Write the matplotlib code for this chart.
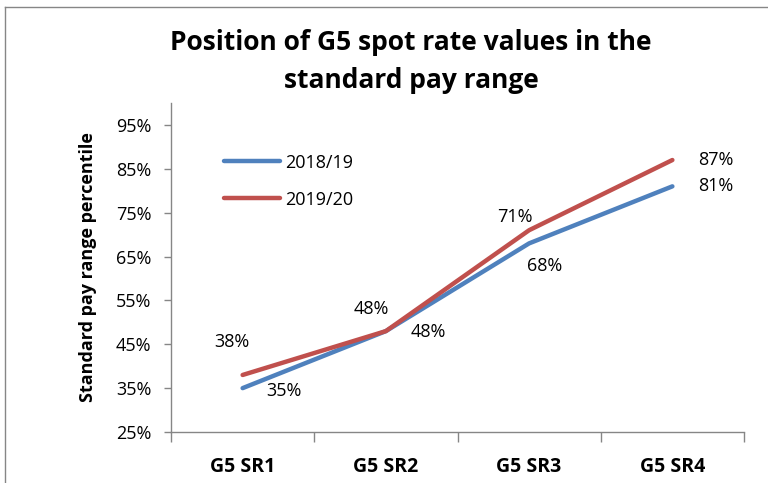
import matplotlib
matplotlib.use("Agg")
import matplotlib.pyplot as plt
from matplotlib.lines import Line2D
from matplotlib.ticker import FixedLocator, FuncFormatter

categories = ["G5 SR1", "G5 SR2", "G5 SR3", "G5 SR4"]
series_names = ["2018/19", "2019/20"]
values_2018 = [35, 48, 68, 81]
values_2019 = [38, 48, 71, 87]
yticks = [25, 35, 45, 55, 65, 75, 85, 95]

# label offsets in pixels (dx, dy) relative to each point
offs_2018 = [(41, -3), (42, -1), (16, -23), (43, 0)]
offs_2019 = [(-11, 33), (-15, 22), (-14, 13), (43, 0)]

blue = "#4F81BD"
red = "#C0504D"
grey = "#868686"
font = "Open Sans"

plt.rcParams["font.family"] = [font, "DejaVu Sans"]

fig = plt.figure(figsize=(7.68, 4.83), dpi=100)
ax = fig.add_axes([171/768, 1-432/483, (744-171)/768, (432-103)/483])

x = list(range(len(categories)))
ax.plot(x, values_2018, color=blue, lw=3.2, solid_capstyle="round", label=series_names[0])
ax.plot(x, values_2019, color=red, lw=3.2, solid_capstyle="round", label=series_names[1])

lab_fs = 13
for xi, v, (dx, dy) in zip(x, values_2018, offs_2018):
    ax.annotate(f"{v}%", (xi, v), xytext=(dx, dy), textcoords="offset pixels",
                ha="center", va="center", fontsize=lab_fs, color="black")
for xi, v, (dx, dy) in zip(x, values_2019, offs_2019):
    ax.annotate(f"{v}%", (xi, v), xytext=(dx, dy), textcoords="offset pixels",
                ha="center", va="center", fontsize=lab_fs, color="black")

ax.set_xlim(-0.5, len(categories) - 0.5)
ax.set_ylim(25, 100)
ax.yaxis.set_major_locator(FixedLocator(yticks))
ax.yaxis.set_major_formatter(FuncFormatter(lambda v, p: f"{int(v)}%"))
ax.set_xticks(x)
ax.set_xticklabels(categories, fontsize=14, fontweight="bold")
ax.xaxis.set_minor_locator(FixedLocator([i - 0.5 for i in range(len(categories) + 1)]))
ax.tick_params(axis="x", which="major", length=0, pad=18)
ax.tick_params(axis="x", which="minor", length=7, color=grey, width=1)
ax.tick_params(axis="y", length=5, color=grey, width=1, labelsize=lab_fs, pad=9)

for s in ["top", "right"]:
    ax.spines[s].set_visible(False)
for s in ["left", "bottom"]:
    ax.spines[s].set_color(grey)
    ax.spines[s].set_linewidth(1)

ax.set_ylabel("Standard pay range percentile", fontsize=13, fontweight="bold", labelpad=14)

ax.legend(loc="upper left", bbox_to_anchor=(0.065, 0.895), frameon=False, fontsize=lab_fs,
          handlelength=3.1, handletextpad=0.25, labelspacing=1.05)

fig.text(0.535, 1-43/483, "Position of G5 spot rate values in the", ha="center", va="center",
         fontsize=19, fontweight="bold")
fig.text(0.535, 1-81/483, "standard pay range", ha="center", va="center",
         fontsize=19, fontweight="bold")

# outer chart frame
fig.add_artist(Line2D([5/768, 5/768], [0, 1-7/483], color=grey, lw=1, transform=fig.transFigure))
fig.add_artist(Line2D([5/768, 1], [1-7/483, 1-7/483], color=grey, lw=1, transform=fig.transFigure))

fig.savefig("out.png", dpi=100)
